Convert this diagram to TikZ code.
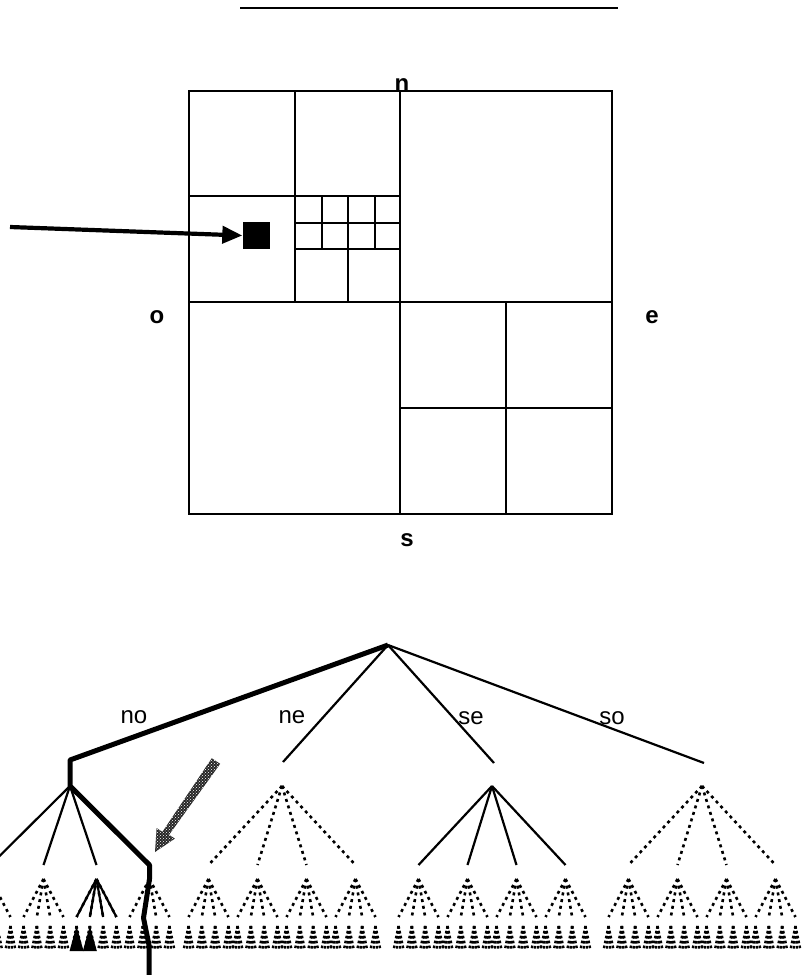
\documentclass[tikz,border=0pt]{standalone}
\usepackage{fontspec}
\setmainfont{Liberation Sans}
\usetikzlibrary{arrows.meta,patterns}

\begin{document}
\begin{tikzpicture}[x=1pt, y=-1pt,
        cellline/.style={line width=2pt},
        branch/.style={line width=2.2pt},
        dotbranch/.style={line width=2.6pt, dash pattern=on 3pt off 3.8pt},
        leafdots/.style={line width=2.4pt, dash pattern=on 2.6pt off 2.4pt},
        pathline/.style={line width=5pt, line join=round},
        lab/.style={font=\fontsize{24}{26}\selectfont, inner sep=0pt},
        quadlab/.style={lab, font=\fontsize{24}{26}\selectfont\bfseries}]
            \useasboundingbox (0,0) rectangle (807,975);
            \clip (0,0) rectangle (807,975);
            \draw[line width=2.8pt] (240,8) -- (618,8);
            \draw[cellline] (189,91) rectangle (612,514);
            \draw[cellline] (400,91) -- (400,514) (189,302) -- (612,302);
            \draw[cellline] (295,91) -- (295,302) (189,196) -- (400,196);
            \draw[cellline] (506,302) -- (506,514) (400,408) -- (612,408);
            \draw[cellline] (348,196) -- (348,302) (295,249) -- (400,249) (295,222.5) -- (400,222.5);
            \foreach \c in {321.5,374.5} \draw[cellline] (\c,196) -- (\c,249);
            \node[fill=black, minimum size=27pt, inner sep=0pt] (cell) at (256,235.5) {};
            \coordinate (from) at (10,227);
            \draw[line width=4.2pt, -{Triangle[length=20pt, width=17pt]}] (from) -- (cell.west);
            \node[quadlab] (n) at (402,85) {n};
            \node[quadlab] (o) at (157,317) {o};
            \node[quadlab] (e) at (652,317) {e};
            \node[quadlab] (s) at (407,540) {s};
            \coordinate (root) at (388,645);
            \foreach \q/\cx/\ex/\ey/\sp/\st in {no/70/70/760/53/branch, ne/282/283/762/49/dotbranch, se/492/494/763/49/branch, so/702/704/763/49/dotbranch} {
                \coordinate (\q) at (\ex,\ey);
                \coordinate (\q-a) at (\cx,786);
                \draw[branch] (root) -- (\q);
                \foreach \k in {1,...,4} {
                    \pgfmathsetmacro\kx{\cx+(\k-2.5)*\sp}
                    \coordinate (\q-\k) at (\kx,865);
                    \coordinate (\q-\k-a) at (\kx,879);
                    \draw[\st] (\q-a) -- (\q-\k);
                    \foreach \j in {1,...,4} {
                        \pgfmathsetmacro\jx{\kx+(\j-2.5)*13.3}
                        \coordinate (\q-\k-\j) at (\jx,917);
                        \coordinate (\q-\k-\j-a) at (\jx,926);
                        \draw[dotbranch] (\q-\k-a) -- (\q-\k-\j);
                        \foreach \d in {-5,-1.7,1.7,5} \draw[leafdots] (\q-\k-\j-a) -- ++(\d,24);
                    }
                }
            }
            \foreach \j in {1,...,4} \draw[branch] (no-3-a) -- (no-3-\j);
            \foreach \j in {1,2} \fill (no-3-\j-a) -- ++(-7,25) -- ++(14,0) -- cycle;
            \node[lab] (lab-no) at (134,717) {no};
            \node[lab] (lab-ne) at (292,717) {ne};
            \node[lab] (lab-se) at (471,718) {se};
            \node[lab] (lab-so) at (612,718) {so};
            \coordinate (bend) at (143.5,918);
            \coordinate (back) at (149,945);
            \coordinate (bottom) at (149,980);
            \draw[pathline] (root) -- (no) -- (no-a) -- (no-4) -- (no-4-a) -- (bend) -- (back) -- (bottom);
            \fill[black!85, postaction={pattern=crosshatch dots, pattern color=white}]
                (211.8,758.2) -- (162.4,831.9) -- (156.6,828) -- (155,852) -- (174.9,838.6) -- (169.1,834.8) -- (220.2,763.8) -- cycle;
        \end{tikzpicture}
\end{document}
